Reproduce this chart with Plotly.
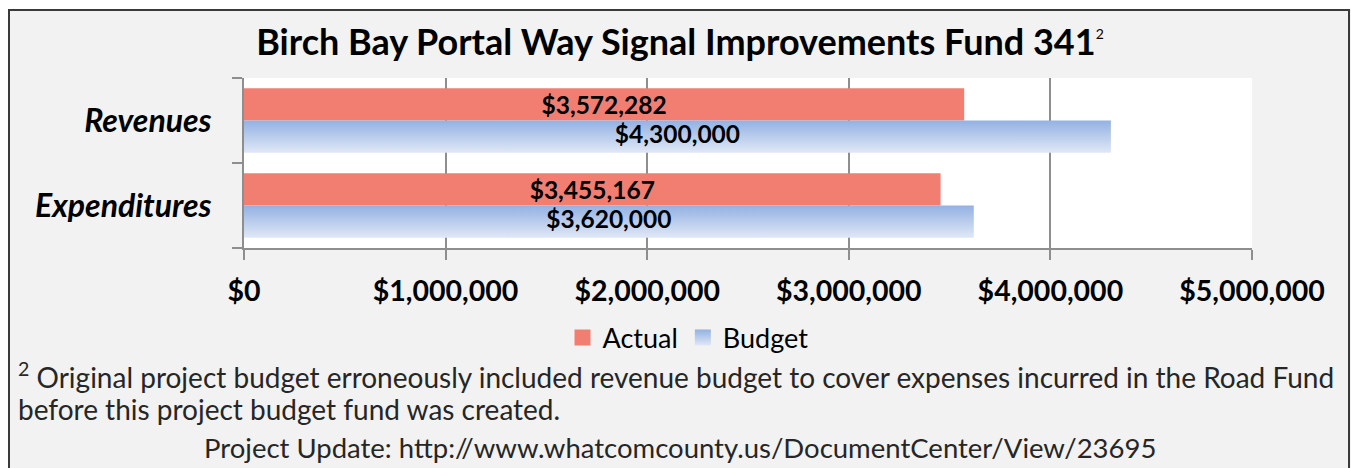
import plotly.graph_objects as go

# ---- data -------------------------------------------------------------
categories = ["Revenues", "Expenditures"]
actual = [3572282, 3455167]
budget = [4300000, 3620000]
x_tick_values = [0, 1000000, 2000000, 3000000, 4000000, 5000000]
x_tick_labels = ["$0", "$1,000,000", "$2,000,000", "$3,000,000", "$4,000,000", "$5,000,000"]

title_text = "Birch Bay Portal Way Signal Improvements Fund 341"
footnote_1 = ("<sup>2</sup> Original project budget erroneously included revenue budget "
              "to cover expenses incurred in the Road Fund")
footnote_2 = "before this project budget fund was created."
footnote_3 = "Project Update: http://www.whatcomcounty.us/DocumentCenter/View/23695"

# ---- styling ----------------------------------------------------------
W, H = 1351, 468
L, R, T, B = 244, 99, 78, 220          # plot-area margins
PW, PH = W - L - R, H - T - B
FONT = "Lato"
ACTUAL_COLOR = "#F27E72"
BUDGET_TOP, BUDGET_BOTTOM = "#93B1E2", "#E0E8F6"
GRID = "#8E8E8E"
BAR_W = 0.38                            # bar thickness in category units
LABEL_FONT = dict(family=FONT, size=24.5, color="black", weight="bold")


def xp(px):
    return (px - L) / PW


def yp(py):
    return (T + PH - py) / PH


pos = list(range(len(categories)))
fig = go.Figure()

# Actual: upper bar of each pair
fig.add_trace(go.Bar(
    name="Actual", orientation="h", showlegend=False, legendgroup="Actual",
    y=pos, x=actual, offset=-BAR_W, width=BAR_W,
    marker=dict(color=ACTUAL_COLOR, line=dict(width=0)),
    text=[f"${v:,}" for v in actual],
    textposition="inside", insidetextanchor="middle", constraintext="none",
    textfont=LABEL_FONT,
    cliponaxis=False,
))

# Budget: lower bar of each pair, drawn as a filled shape with a vertical gradient
for p, v in zip(pos, budget):
    fig.add_trace(go.Scatter(
        name="Budget", legendgroup="Budget", showlegend=False,
        x=[0, v, v, 0, 0], y=[p, p, p + BAR_W, p + BAR_W, p],
        mode="lines", line=dict(width=0), fill="toself",
        fillgradient=dict(type="vertical",
                          colorscale=[[0, BUDGET_BOTTOM], [1, BUDGET_TOP]]),
        hoverinfo="skip",
    ))

fig.add_trace(go.Scatter(
    x=[v / 2 for v in budget], y=[p + BAR_W / 2 for p in pos],
    mode="text", text=[f"${v:,}" for v in budget],
    textfont=LABEL_FONT,
    showlegend=False, hoverinfo="skip",
))

# legend keys (square swatches)
fig.add_trace(go.Scatter(
    name="Actual", legendgroup="Actual", x=[None], y=[None], mode="markers",
    marker=dict(symbol="square", size=17, color=ACTUAL_COLOR, line=dict(width=0)),
))
fig.add_trace(go.Scatter(
    name="Budget", legendgroup="Budget", x=[None], y=[None], mode="markers",
    marker=dict(symbol="square", size=17, color=BUDGET_TOP, line=dict(width=0),
                gradient=dict(type="vertical", color=BUDGET_BOTTOM)),
))

shapes = [
    # outer frame
    dict(type="rect", xref="paper", yref="paper",
         x0=xp(9), x1=xp(1349), y0=yp(10), y1=yp(490),
         line=dict(color="#3A3A3A", width=2), fillcolor="rgba(0,0,0,0)", layer="above"),
    # white strips outside the frame
    dict(type="rect", xref="paper", yref="paper", x0=xp(-5), x1=xp(8), y0=yp(-5), y1=yp(480),
         line=dict(width=0), fillcolor="white", layer="above"),
    dict(type="rect", xref="paper", yref="paper", x0=xp(-5), x1=xp(1360), y0=yp(-5), y1=yp(9),
         line=dict(width=0), fillcolor="white", layer="above"),
]

NOTE_FONT = dict(family=FONT, size=28, color="#262626")
annotations = [
    dict(text=footnote_1, xref="paper", yref="paper", x=xp(16), y=yp(375),
         xanchor="left", yanchor="middle", showarrow=False, font=NOTE_FONT),
    dict(text=footnote_2, xref="paper", yref="paper", x=xp(16), y=yp(409),
         xanchor="left", yanchor="middle", showarrow=False, font=NOTE_FONT),
    dict(text=footnote_3, xref="paper", yref="paper", x=xp(680), y=yp(447),
         xanchor="center", yanchor="middle", showarrow=False,
         font=dict(family=FONT, size=27.5, color="#262626")),
]

fig.update_layout(
    width=W, height=H,
    margin=dict(l=L, r=R, t=T, b=B, pad=0),
    paper_bgcolor="#F2F2F2", plot_bgcolor="white",
    title=dict(
        text=title_text + "<sup><span style='font-size:14px;font-weight:normal'>2</span></sup>",
        xref="container", yref="container", x=680 / W, y=1 - 42 / H,
        xanchor="center", yanchor="middle",
        font=dict(family=FONT, size=36, color="black", weight="bold"),
    ),
    barmode="overlay",
    showlegend=True,
    legend=dict(orientation="h", xref="paper", yref="paper", x=xp(688), y=yp(338),
                xanchor="center", yanchor="middle", bgcolor="rgba(0,0,0,0)",
                font=dict(family=FONT, size=27, color="black"),
                itemwidth=30, tracegroupgap=0),
    xaxis=dict(
        range=[0, 5000000], tickvals=x_tick_values, ticktext=x_tick_labels,
        showgrid=True, gridcolor=GRID, gridwidth=2,
        showline=True, linecolor=GRID, linewidth=2,
        ticks="outside", ticklen=10, tickwidth=2, tickcolor=GRID,
        ticklabelstandoff=7,
        tickfont=dict(family=FONT, size=28.5, color="black", weight="bold"),
        zeroline=False, fixedrange=True,
    ),
    yaxis=dict(
        range=[1.5, -0.5], tickvals=pos, ticktext=categories,
        ticks="", showgrid=False, zeroline=False,
        showline=True, linecolor=GRID, linewidth=2,
        minor=dict(tickvals=[-0.5, 0.5, 1.5], ticks="outside", ticklen=10,
                   tickwidth=2, tickcolor=GRID, showgrid=False),
        ticklabelstandoff=24,
        tickfont=dict(family=FONT, size=32, color="black", weight="bold", style="italic"),
        fixedrange=True,
    ),
    shapes=shapes,
    annotations=annotations,
)

fig.write_html("out.html")
